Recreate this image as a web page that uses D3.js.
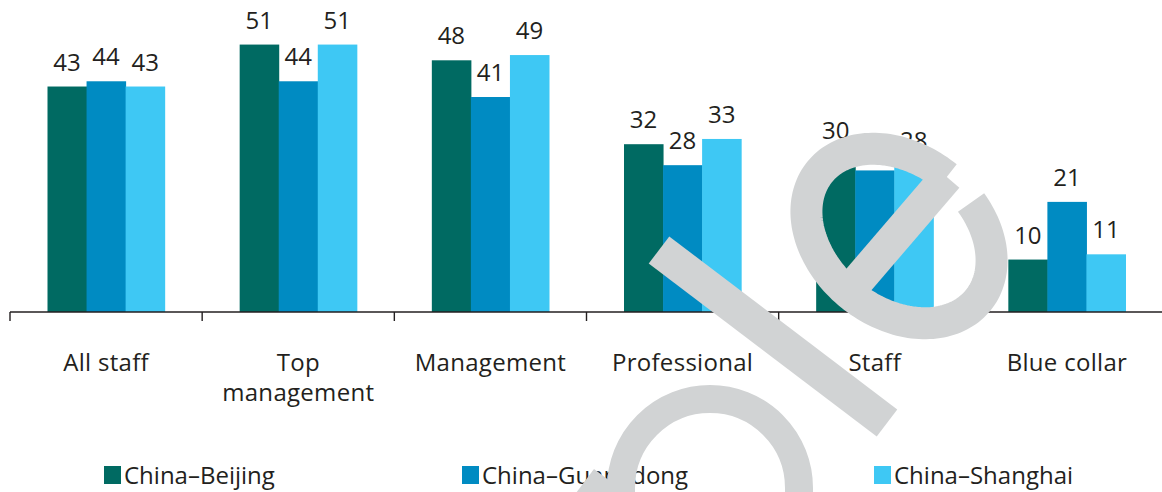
<!DOCTYPE html>
<html>
<head>
<meta charset="utf-8">
<script src="https://cdn.jsdelivr.net/npm/d3@7"></script>
<style>
  body { margin: 0; background: #fff; }
  svg text { font-family: "Open Sans", "Noto Sans", sans-serif; fill: #231f20; }
</style>
</head>
<body>
<svg id="chart" width="1162" height="492"></svg>
<script>
const categories = ["All staff", "Top management", "Management", "Professional", "Staff", "Blue collar"];
const seriesNames = ["China–Beijing", "China–Guangdong", "China–Shanghai"];
const beijing = [43, 51, 48, 32, 30, 10];
const guangdong = [44, 44, 41, 28, 27, 21];
const shanghai = [43, 51, 49, 33, 28, 11];
const seriesColors = ["#006a62", "#008bc2", "#3ec8f4"];

const values = [beijing, guangdong, shanghai];
const rows = categories.map((c, i) => ({
    cat: c,
    vals: seriesNames.map((s, j) => ({ series: s, value: values[j][i] }))
}));

const svg = d3.select("#chart");
const baseY = 312;

const x0 = d3.scaleBand().domain(categories).range([10, 1163]);
const bw = x0.bandwidth();
const x1 = d3.scaleBand().domain(seriesNames).range([37.5, bw - 37.5]);
const y = d3.scaleLinear().domain([0, 59.5]).range([baseY, 0]);
const color = d3.scaleOrdinal().domain(seriesNames).range(seriesColors);

const groups = svg.append("g").selectAll("g")
    .data(rows).enter().append("g")
    .attr("transform", d => `translate(${x0(d.cat)},0)`);

groups.selectAll("rect")
    .data(d => d.vals).enter().append("rect")
    .attr("x", d => x1(d.series))
    .attr("y", d => y(d.value))
    .attr("width", x1.bandwidth() + 0.5)
    .attr("height", d => baseY - y(d.value))
    .attr("fill", d => color(d.series));

groups.selectAll("text")
    .data(d => d.vals).enter().append("text")
    .attr("x", d => x1(d.series) + x1.bandwidth() / 2)
    .attr("y", d => y(d.value) - 16)
    .attr("text-anchor", "middle")
    .style("font-size", "24px")
    .text(d => d.value);

// axis: baseline, ticks between groups, wrapped labels
const axis = svg.append("g");
axis.append("line")
    .attr("x1", 10).attr("x2", 1162)
    .attr("y1", baseY).attr("y2", baseY)
    .attr("stroke", "#231f20").attr("stroke-width", 1.6);
axis.selectAll("line.tick")
    .data(categories.map(c => x0(c)).concat([x0.range()[1]])).enter()
    .append("line").attr("class", "tick")
    .attr("x1", d => d).attr("x2", d => d)
    .attr("y1", baseY).attr("y2", baseY + 9)
    .attr("stroke", "#231f20").attr("stroke-width", 1.4);

const catLabel = axis.selectAll("text.cat")
    .data(categories).enter().append("text").attr("class", "cat")
    .attr("text-anchor", "middle")
    .attr("x", d => x0(d) + bw / 2)
    .attr("y", 371)
    .style("font-size", "24px")
    .style("letter-spacing", "0.3px")
    .text(d => d);

catLabel.each(function(d) {
    const t = d3.select(this);
    if (this.getComputedTextLength() > 165) {
        const words = d.split(" ");
        t.text(null);
        words.forEach((w, i) => {
            t.append("tspan").attr("x", x0(d) + bw / 2).attr("dy", i ? 30 : 0).text(w);
        });
    }
});

// legend
const legendX = [104, 462, 874];
const legend = svg.append("g").selectAll("g")
    .data(seriesNames).enter().append("g")
    .attr("transform", (d, i) => `translate(${legendX[i]},466)`);
legend.append("rect").attr("width", 17).attr("height", 18).attr("fill", d => color(d));
legend.append("text").attr("x", 20).attr("y", 18).style("font-size", "24px").text(d => d);

// grey watermark letters drawn over the chart
const wm = svg.append("g").attr("fill", "none").attr("stroke", "#d1d3d4");
const ring = { cx: 899, cy: 236, a: 102, b: 76, rot: 39 * Math.PI / 180 };
const ringPts = d3.range(0, 360, 2).map(t => {
    const r = t * Math.PI / 180;
    const lx = ring.a * Math.cos(r), ly = ring.b * Math.sin(r);
    const px = lx * Math.cos(ring.rot) - ly * Math.sin(ring.rot);
    const py = lx * Math.sin(ring.rot) + ly * Math.cos(ring.rot);
    const ang = (Math.atan2(py, px) * 180 / Math.PI + 25 + 720) % 360;
    return { x: ring.cx + px, y: ring.cy + py, ang };
}).filter(p => p.ang < 335).sort((p, q) => p.ang - q.ang);
wm.append("path")
    .attr("d", d3.line().x(p => p.x).y(p => p.y)(ringPts))
    .attr("stroke-width", 32);
const last = ringPts[ringPts.length - 1];
wm.append("line")
    .attr("x1", last.x).attr("y1", last.y)
    .attr("x2", 855).attr("y2", 284)
    .attr("stroke-width", 33);
wm.append("line")
    .attr("x1", 659).attr("y1", 250).attr("x2", 887).attr("y2", 423)
    .attr("stroke-width", 34);
wm.append("path")
    .attr("d", "M621,530 L621,488 A89,89 0 0 1 799,488 L799,530")
    .attr("stroke-width", 28);
wm.append("line")
    .attr("x1", 585).attr("y1", 481).attr("x2", 665).attr("y2", 541)
    .attr("stroke-width", 30);
</script>
</body>
</html>
